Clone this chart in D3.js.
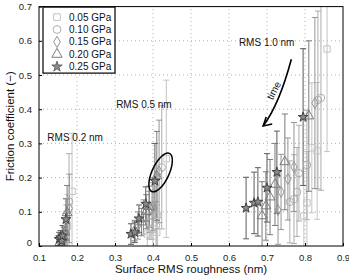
<!DOCTYPE html>
<html>
<head>
<meta charset="utf-8">
<script src="https://cdn.jsdelivr.net/npm/d3@7"></script>
<style>
  body { margin: 0; background: #fff; }
  text { font-family: "Liberation Sans", Arial, sans-serif; }
</style>
</head>
<body>
<div id="chart"></div>
<script>
// series: [roughness (nm), friction, error]
const labels = ["0.05 GPa", "0.10 GPa", "0.15 GPa", "0.20 GPa", "0.25 GPa"];
const colors = ["#c4c4c4", "#adadad", "#959595", "#7c7c7c", "#5c5c5c"];

const p005 = [
  [0.162, 0.005, 0.02], [0.167, 0.01, 0.03], [0.170, 0.02, 0.05], [0.175, 0.06, 0.09], [0.187, 0.16, 0.17],
  [0.385, 0.035, 0.05], [0.400, 0.05, 0.07], [0.410, 0.04, 0.08], [0.412, 0.09, 0.12], [0.435, 0.255, 0.23],
  [0.797, 0.088, 0.13], [0.805, 0.126, 0.15], [0.818, 0.287, 0.19], [0.832, 0.278, 0.2], [0.858, 0.576, 0.3]
];
const p010 = [
  [0.160, 0.005, 0.02], [0.165, 0.01, 0.03], [0.168, 0.015, 0.04], [0.172, 0.05, 0.07], [0.179, 0.13, 0.14],
  [0.390, 0.07, 0.05], [0.397, 0.09, 0.07], [0.400, 0.12, 0.08], [0.408, 0.06, 0.07], [0.423, 0.23, 0.18],
  [0.760, 0.129, 0.12], [0.771, 0.137, 0.13], [0.779, 0.158, 0.13], [0.784, 0.213, 0.14], [0.805, 0.237, 0.16],
  [0.834, 0.427, 0.26], [0.842, 0.433, 0.27]
];
const p015 = [
  [0.158, 0.005, 0.02], [0.163, 0.015, 0.03], [0.167, 0.02, 0.03], [0.170, 0.045, 0.05], [0.180, 0.11, 0.1],
  [0.360, 0.06, 0.04], [0.375, 0.085, 0.05], [0.390, 0.10, 0.06], [0.400, 0.115, 0.07], [0.416, 0.218, 0.15],
  [0.729, 0.105, 0.1], [0.737, 0.158, 0.11], [0.755, 0.196, 0.12], [0.771, 0.231, 0.13], [0.826, 0.418, 0.25]
];
const p020 = [
  [0.155, 0.01, 0.02], [0.160, 0.02, 0.02], [0.165, 0.025, 0.03], [0.168, 0.04, 0.04], [0.174, 0.097, 0.08],
  [0.352, 0.045, 0.03], [0.370, 0.07, 0.04], [0.382, 0.10, 0.05], [0.390, 0.115, 0.06], [0.410, 0.205, 0.13],
  [0.687, 0.088, 0.1], [0.697, 0.117, 0.1], [0.708, 0.143, 0.11], [0.721, 0.18, 0.12], [0.747, 0.246, 0.14],
  [0.810, 0.38, 0.22]
];
const p025 = [
  [0.153, 0.02, 0.02], [0.157, 0.025, 0.02], [0.160, 0.015, 0.02], [0.162, 0.03, 0.03], [0.171, 0.078, 0.06],
  [0.342, 0.035, 0.03], [0.352, 0.04, 0.03], [0.363, 0.08, 0.04], [0.381, 0.123, 0.05], [0.405, 0.19, 0.11],
  [0.645, 0.111, 0.09], [0.666, 0.126, 0.09], [0.676, 0.129, 0.1], [0.700, 0.17, 0.1], [0.726, 0.216, 0.12],
  [0.795, 0.377, 0.2]
];
const series = [p005, p010, p015, p020, p025];

const xTicks = [0.1, 0.2, 0.3, 0.4, 0.5, 0.6, 0.7, 0.8, 0.9];
const yTicks = [0, 0.1, 0.2, 0.3, 0.4, 0.5, 0.6, 0.7];

const notes = [
  { text: "RMS 0.2 nm", x: 0.122, y: 0.307 },
  { text: "RMS 0.5 nm", x: 0.303, y: 0.404 },
  { text: "RMS 1.0 nm", x: 0.626, y: 0.584 }
];

const width = 349, height = 275;
const margin = { top: 6.6, right: 6, bottom: 29, left: 39 };

const svg = d3.select("#chart").append("svg")
  .attr("width", width).attr("height", height);

const x = d3.scaleLinear().domain([0.1, 0.9]).range([margin.left, width - margin.right]);
const y = d3.scaleLinear().domain([0, 0.7]).range([height - margin.bottom, margin.top]);

svg.append("defs").append("clipPath").attr("id", "clip")
  .append("rect")
  .attr("x", x(0.1)).attr("y", y(0.7))
  .attr("width", x(0.9) - x(0.1)).attr("height", y(0) - y(0.7));

// dotted grid
const grid = svg.append("g").attr("stroke", "#9a9a9a").attr("stroke-width", 0.8)
  .attr("stroke-dasharray", "1,3");
grid.selectAll(".gx").data(xTicks.slice(1, -1)).enter().append("line")
  .attr("x1", d => x(d)).attr("x2", d => x(d)).attr("y1", y(0)).attr("y2", y(0.7));
grid.selectAll(".gy").data(yTicks.slice(1, -1)).enter().append("line")
  .attr("x1", x(0.1)).attr("x2", x(0.9)).attr("y1", d => y(d)).attr("y2", d => y(d));

// axes with inward ticks
const xAxis = svg.append("g").attr("transform", `translate(0,${y(0)})`)
  .call(d3.axisBottom(x).tickValues(xTicks).tickSize(-3).tickPadding(6).tickFormat(d3.format(".1f")));
const yAxis = svg.append("g").attr("transform", `translate(${x(0.1)},0)`)
  .call(d3.axisLeft(y).tickValues(yTicks).tickSize(-3).tickPadding(7).tickFormat(d => d === 0 ? "0" : d3.format(".1f")(d)));
[xAxis, yAxis].forEach(a => {
  a.select(".domain").remove();
  a.selectAll("text").attr("font-size", 9.5).attr("fill", "#222");
  a.selectAll("line").attr("stroke", "#000");
});
xAxis.selectAll("text").attr("dy", "0.9em");
yAxis.selectAll(".tick").filter(d => d === 0).select("text").attr("dy", "-0.05em");

const symbols = [d3.symbolSquare, d3.symbolCircle, d3.symbolDiamond, d3.symbolTriangle, d3.symbolStar];
const sizes = [40, 44, 34, 42, 30];

const plot = svg.append("g").attr("clip-path", "url(#clip)");

series.forEach((s, i) => {
  const g = plot.append("g").attr("stroke", colors[i]).attr("stroke-width", 1);
  const bars = g.selectAll(".bar").data(s).enter().append("g");
  bars.append("line")
    .attr("x1", d => x(d[0])).attr("x2", d => x(d[0]))
    .attr("y1", d => y(d[1] - d[2])).attr("y2", d => y(d[1] + d[2]));
  [1, -1].forEach(sg => {
    bars.append("line")
      .attr("x1", d => x(d[0]) - 3).attr("x2", d => x(d[0]) + 3)
      .attr("y1", d => y(d[1] + sg * d[2])).attr("y2", d => y(d[1] + sg * d[2]));
  });
});

series.forEach((s, i) => {
  plot.append("g").selectAll("path").data(s).enter().append("path")
    .attr("d", d3.symbol().type(symbols[i]).size(sizes[i]))
    .attr("transform", d => `translate(${x(d[0])},${y(d[1])})`)
    .attr("fill", i === 4 ? "#8a8a8a" : "none")
    .attr("stroke", i === 4 ? "#444" : colors[i])
    .attr("stroke-width", 1);
});

// frame
svg.append("rect")
  .attr("x", x(0.1)).attr("y", y(0.7))
  .attr("width", x(0.9) - x(0.1)).attr("height", y(0) - y(0.7))
  .attr("fill", "none").attr("stroke", "#000").attr("stroke-width", 1);

// annotations
svg.selectAll(".note").data(notes).enter().append("text")
  .attr("x", d => x(d.x)).attr("y", d => y(d.y))
  .attr("font-size", 10).attr("fill", "#111").text(d => d.text);

// ellipse around the first points of RMS 0.5 nm
const ellCenter = [0.42, 0.215];
svg.append("ellipse")
  .attr("transform", `translate(${x(ellCenter[0])},${y(ellCenter[1])}) rotate(25)`)
  .attr("rx", 8.5).attr("ry", 21)
  .attr("fill", "none").attr("stroke", "#000").attr("stroke-width", 1.5);

// time arrow
const arrowFrom = [0.764, 0.546], arrowTo = [0.69, 0.351];
const ax0 = x(arrowFrom[0]), ay0 = y(arrowFrom[1]), ax1 = x(arrowTo[0]), ay1 = y(arrowTo[1]);
svg.append("path")
  .attr("d", `M${ax0},${ay0} Q${ax0 - 12},${ay0 + 45} ${ax1},${ay1}`)
  .attr("fill", "none").attr("stroke", "#000").attr("stroke-width", 1.6);
svg.append("path")
  .attr("d", `M${ax1 + 3},${ay1 - 9} L${ax1},${ay1} L${ax1 + 9},${ay1 - 2}`)
  .attr("fill", "none").attr("stroke", "#000").attr("stroke-width", 1.6);
svg.append("text")
  .attr("transform", `translate(${x(0.726)},${y(0.45)}) rotate(-62)`)
  .attr("text-anchor", "middle").attr("font-size", 10).attr("fill", "#111").text("time");

// legend
const legend = svg.append("g").attr("transform", `translate(${x(0.1) + 4},${y(0.7) + 0.5})`);
legend.append("rect").attr("width", 72).attr("height", 66)
  .attr("fill", "#fff").attr("stroke", "#000").attr("stroke-width", 1.2);
labels.forEach((l, i) => {
  const row = legend.append("g").attr("transform", `translate(0,${10 + i * 12.4})`);
  row.append("path")
    .attr("d", d3.symbol().type(symbols[i]).size(sizes[i] * 1.1))
    .attr("transform", "translate(14,0)")
    .attr("fill", i === 4 ? "#8a8a8a" : "none")
    .attr("stroke", i === 4 ? "#666" : colors[i]).attr("stroke-width", 1);
  row.append("text").attr("x", 26).attr("y", 3.5).attr("font-size", 10).attr("fill", "#111").text(l);
});

// axis titles
svg.append("text")
  .attr("x", (x(0.1) + x(0.9)) / 2).attr("y", 273)
  .attr("text-anchor", "middle").attr("font-size", 11.5).attr("fill", "#111")
  .text("Surface RMS roughness (nm)");
svg.append("text")
  .attr("transform", `translate(14,${(y(0) + y(0.7)) / 2}) rotate(-90)`)
  .attr("text-anchor", "middle").attr("font-size", 11.5).attr("fill", "#111")
  .text("Friction coefficient (−)");
</script>
</body>
</html>
